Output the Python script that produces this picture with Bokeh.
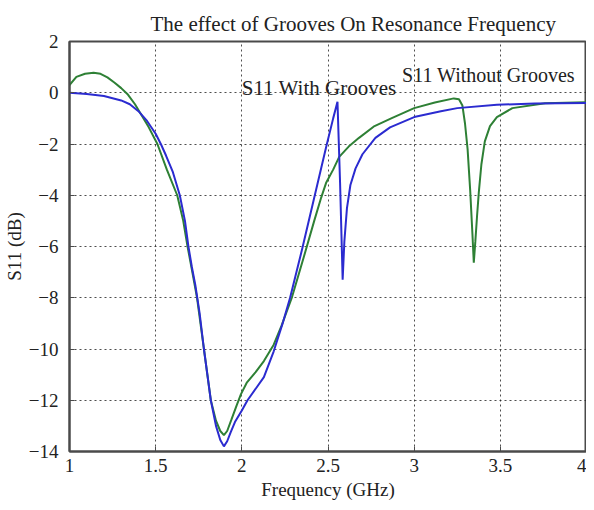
from bokeh.plotting import figure
from bokeh.models import FixedTicker, Range1d, Label
from bokeh.embed import file_html
from bokeh.resources import INLINE

# ---- data ----
freq_without = [1.00, 1.04, 1.09, 1.14, 1.18, 1.22, 1.26, 1.30, 1.34, 1.38, 1.42, 1.46,
                1.51, 1.565, 1.625, 1.66, 1.685, 1.71, 1.74, 1.78, 1.82, 1.85, 1.875,
                1.896, 1.915, 1.94, 1.97, 1.995, 2.03, 2.08, 2.128, 2.185, 2.23, 2.29,
                2.36, 2.42, 2.46, 2.49, 2.53, 2.565, 2.62, 2.68, 2.77, 2.87, 3.00, 3.12,
                3.23, 3.26, 3.28, 3.295, 3.31, 3.325, 3.338, 3.346, 3.355, 3.365, 3.375,
                3.39, 3.41, 3.44, 3.48, 3.57, 3.76, 4.00]
s11_without = [0.30, 0.62, 0.74, 0.78, 0.74, 0.60, 0.40, 0.18, -0.08, -0.45, -0.9, -1.35,
               -2.0, -3.0, -4.0, -5.0, -6.0, -6.9, -8.0, -10.0, -12.0, -12.8, -13.2,
               -13.36, -13.2, -12.75, -12.2, -11.76, -11.3, -10.9, -10.47, -9.83, -9.1, -8.0,
               -6.4, -5.0, -4.1, -3.5, -3.0, -2.5, -2.1, -1.76, -1.3, -0.99, -0.6, -0.38,
               -0.22, -0.25, -0.5, -1.2, -2.2, -3.8, -5.5, -6.63, -5.8, -4.8, -3.9,
               -2.8, -1.9, -1.3, -0.95, -0.6, -0.41, -0.37]

freq_with = [1.00, 1.10, 1.20, 1.30, 1.35, 1.40, 1.45, 1.50, 1.53, 1.56, 1.60, 1.64,
             1.67, 1.69, 1.71, 1.73, 1.755, 1.78, 1.80, 1.82, 1.85, 1.875, 1.896, 1.915,
             1.935, 1.96, 2.00, 2.033, 2.128, 2.185, 2.24, 2.28, 2.35, 2.42, 2.49, 2.53,
             2.555, 2.57, 2.585, 2.595, 2.61, 2.63, 2.66, 2.70, 2.775, 2.86, 3.00, 3.155,
             3.25, 3.48, 3.70, 4.00]
s11_with = [0.0, -0.05, -0.13, -0.3, -0.45, -0.72, -1.1, -1.6, -2.0, -2.45, -3.1, -4.0,
            -5.0, -6.0, -6.8, -7.5, -8.6, -10.0, -11.0, -12.0, -13.0, -13.55, -13.8, -13.6,
            -13.25, -12.85, -12.4, -12.0, -11.1, -10.09, -8.93, -8.0, -6.1, -4.1, -2.1, -1.0,
            -0.35, -3.5, -7.3, -5.8, -4.5, -3.6, -2.95, -2.4, -1.76, -1.35, -0.95, -0.72,
            -0.6, -0.47, -0.42, -0.40]

x_ticks = [1, 1.5, 2, 2.5, 3, 3.5, 4]
x_tick_labels = ["1", "1.5", "2", "2.5", "3", "3.5", "4"]
y_ticks = [2, 0, -2, -4, -6, -8, -10, -12, -14]
y_tick_labels = ["2", "0", "\u22122", "\u22124", "\u22126", "\u22128", "\u221210", "\u221212", "\u221214"]

FONT = "Liberation Serif"
AX = "#4a4a4a"
TXT = "#222222"

p = figure(width=586, height=502, output_backend="svg", toolbar_location=None,
           x_range=Range1d(1, 4), y_range=Range1d(-14, 2),
           title="The effect of Grooves On Resonance Frequency")
p.min_border_left = 69
p.min_border_right = 0
p.min_border_top = 41
p.min_border_bottom = 50

p.title.text_font = FONT
p.title.text_font_size = "21px"
p.title.text_font_style = "normal"
p.title.text_color = TXT
p.title.align = "left"
p.title.offset = 81
p.title.standoff = 11

p.line(freq_without, s11_without, line_color="#2e8035", line_width=2)
p.line(freq_with, s11_with, line_color="#2b2bd0", line_width=2)

p.xaxis.ticker = FixedTicker(ticks=x_ticks)
p.yaxis.ticker = FixedTicker(ticks=y_ticks)
p.xaxis.major_label_overrides = {t: l for t, l in zip(x_ticks, x_tick_labels)}
p.yaxis.major_label_overrides = {t: l for t, l in zip(y_ticks, y_tick_labels)}
p.xaxis.axis_label = "Frequency (GHz)"
p.yaxis.axis_label = "S11 (dB)"

for ax in (p.xaxis, p.yaxis):
    ax.axis_label_text_font = FONT
    ax.axis_label_text_font_size = "19px"
    ax.axis_label_text_font_style = "normal"
    ax.axis_label_text_color = TXT
    ax.major_label_text_font = FONT
    ax.major_label_text_font_size = "19px"
    ax.major_label_text_color = TXT
    ax.axis_line_color = AX
    ax.axis_line_width = 2
    ax.major_tick_in = 5
    ax.major_tick_out = 0
    ax.major_tick_line_color = AX
    ax.minor_tick_line_color = None
p.xaxis.major_label_standoff = 7
p.xaxis.axis_label_standoff = 4
p.yaxis.major_label_standoff = 11
p.yaxis.axis_label_standoff = 1

p.outline_line_color = AX
p.outline_line_width = 2
p.grid.grid_line_color = "#222222"
p.grid.grid_line_dash = "2 3"
p.grid.grid_line_width = 1
p.grid.grid_line_alpha = 0.8

p.add_layout(Label(x=2.0, y=0.2, text="S11 With Grooves", text_font=FONT,
                   text_font_size="21px", text_baseline="middle", text_color=TXT))
p.add_layout(Label(x=2.93, y=0.68, text="S11 Without Grooves", text_font=FONT,
                   text_font_size="20px", text_baseline="middle", text_color=TXT))

open("out.html", "w").write(file_html(p, INLINE))
